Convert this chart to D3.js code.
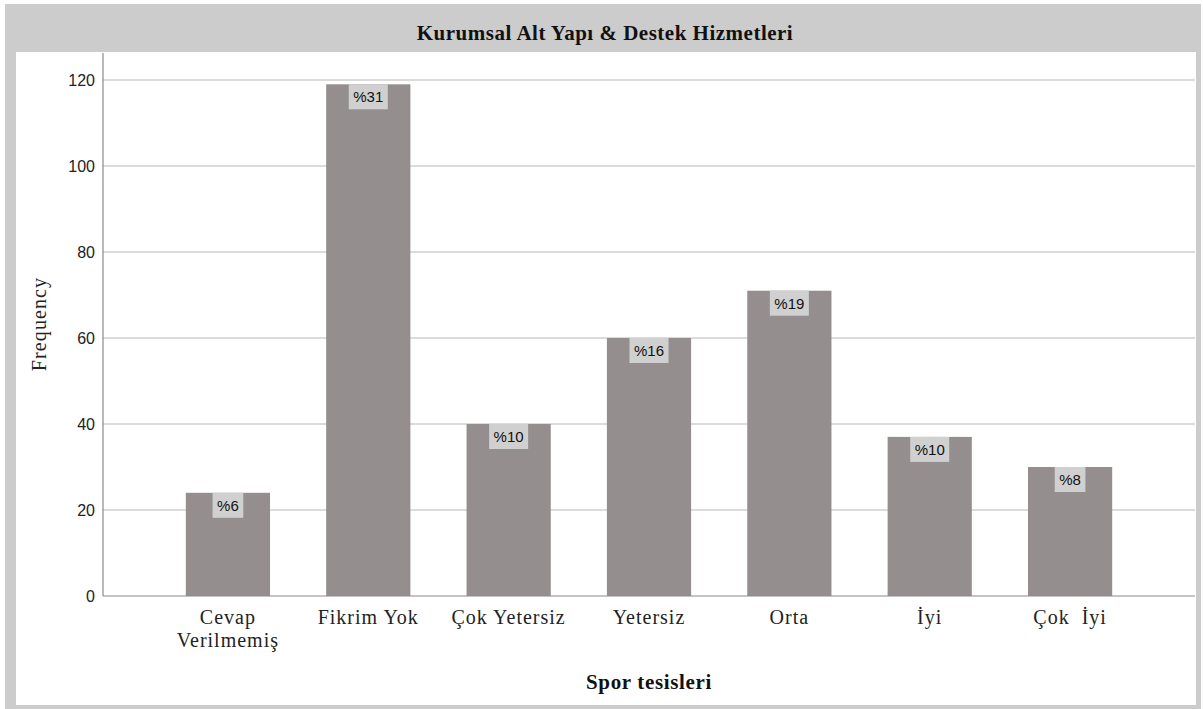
<!DOCTYPE html>
<html>
<head>
<meta charset="utf-8">
<script src="https://cdn.jsdelivr.net/npm/d3@7"></script>
<style>
  html, body { margin: 0; padding: 0; background: #ffffff; }
  svg { display: block; }
</style>
</head>
<body>
<svg id="chart" width="1203" height="709"></svg>
<script>
// ---- Data ----
const categories = ["Cevap\nVerilmemiş", "Fikrim Yok", "Çok Yetersiz", "Yetersiz", "Orta", "İyi", "Çok  İyi"];
const frequencies = [24, 119, 40, 60, 71, 37, 30];
const percentLabels = ["%6", "%31", "%10", "%16", "%19", "%10", "%8"];
const yTicks = [0, 20, 40, 60, 80, 100, 120];
const chartTitle = "Kurumsal Alt Yapı & Destek Hizmetleri";
const xTitle = "Spor tesisleri";
const yTitle = "Frequency";

// ---- Layout ----
const svg = d3.select("#chart");
const plot = { left: 103, right: 1195, top: 53, bottom: 596 };
const serif = "'Liberation Serif', 'Times New Roman', serif";
const sans = "'Liberation Sans', Arial, sans-serif";

// frame
svg.append("rect").attr("x", 5).attr("y", 4).attr("width", 1196).attr("height", 705).attr("fill", "#cccccc");
svg.append("rect").attr("x", 16).attr("y", 52).attr("width", 1180).attr("height", 653).attr("fill", "#ffffff");

// title
svg.append("text")
  .attr("x", 605).attr("y", 40)
  .attr("text-anchor", "middle")
  .attr("font-family", serif)
  .attr("font-weight", "bold")
  .attr("font-size", 21)
  .attr("letter-spacing", 0.5)
  .attr("fill", "#111")
  .text(chartTitle);

const x = d3.scaleBand()
  .domain(categories)
  .range([plot.left, plot.right])
  .paddingInner(0.4)
  .paddingOuter(0.59);

const y = d3.scaleLinear()
  .domain([0, 120])
  .range([plot.bottom, 80]);

// gridlines
svg.append("g")
  .selectAll("line")
  .data(yTicks.filter(d => d > 0))
  .join("line")
  .attr("x1", plot.left).attr("x2", plot.right)
  .attr("y1", d => y(d)).attr("y2", d => y(d))
  .attr("stroke", "#cfcfcf")
  .attr("stroke-width", 1.5);

// bars
svg.append("g")
  .selectAll("rect")
  .data(frequencies)
  .join("rect")
  .attr("x", (d, i) => x(categories[i]))
  .attr("y", d => y(d))
  .attr("width", x.bandwidth())
  .attr("height", d => y(0) - y(d))
  .attr("fill", "#948f8e");

// y axis
const yAxis = d3.axisLeft(y).tickValues(yTicks).tickSize(0).tickPadding(8);
const yg = svg.append("g").attr("transform", `translate(${plot.left},0)`).call(yAxis);
yg.select(".domain").remove();
yg.selectAll("text")
  .attr("font-family", sans)
  .attr("font-size", 16)
  .attr("fill", "#222")
  .attr("dy", "0.55em")
  .attr("y", -3);

// axis lines
svg.append("line")
  .attr("x1", plot.left).attr("x2", plot.left)
  .attr("y1", plot.top).attr("y2", plot.bottom)
  .attr("stroke", "#8a8a8a").attr("stroke-width", 1.2);
svg.append("line")
  .attr("x1", plot.left).attr("x2", plot.right)
  .attr("y1", plot.bottom).attr("y2", plot.bottom)
  .attr("stroke", "#8a8a8a").attr("stroke-width", 1.2);

// x axis labels
const xAxis = d3.axisBottom(x).tickSize(0).tickFormat("");
svg.append("g").attr("transform", `translate(0,${plot.bottom})`).call(xAxis).select(".domain").remove();

const xl = svg.append("g");
categories.forEach(c => {
  const lines = c.split("\n");
  const t = xl.append("text")
    .attr("x", x(c) + x.bandwidth() / 2)
    .attr("y", 624)
    .attr("text-anchor", "middle")
    .attr("font-family", serif)
    .attr("font-size", 20)
    .attr("letter-spacing", 1)
    .attr("fill", "#222")
    .style("white-space", "pre");
  lines.forEach((l, j) => {
    t.append("tspan").attr("x", x(c) + x.bandwidth() / 2).attr("dy", j === 0 ? 0 : 23).text(l);
  });
});

// bar value labels
const lg = svg.append("g");
frequencies.forEach((d, i) => {
  const cx = x(categories[i]) + x.bandwidth() / 2;
  const g = lg.append("g");
  const rect = g.append("rect").attr("fill", "#d0d0d0");
  const txt = g.append("text")
    .attr("x", cx).attr("y", y(d) + 18)
    .attr("text-anchor", "middle")
    .attr("font-family", sans)
    .attr("font-size", 15)
    .attr("fill", "#111")
    .text(percentLabels[i]);
  const w = txt.node().getComputedTextLength() + 9;
  rect.attr("x", cx - w / 2).attr("y", y(d)).attr("width", w).attr("height", 25);
});

// axis titles
svg.append("text")
  .attr("x", 649).attr("y", 689)
  .attr("text-anchor", "middle")
  .attr("font-family", serif)
  .attr("font-weight", "bold")
  .attr("font-size", 21)
  .attr("letter-spacing", 0.65)
  .attr("fill", "#111")
  .text(xTitle);

svg.append("text")
  .attr("transform", "translate(46,324) rotate(-90)")
  .attr("text-anchor", "middle")
  .attr("font-family", serif)
  .attr("font-size", 20)
  .attr("letter-spacing", 1.1)
  .attr("fill", "#222")
  .text(yTitle);
</script>
</body>
</html>
